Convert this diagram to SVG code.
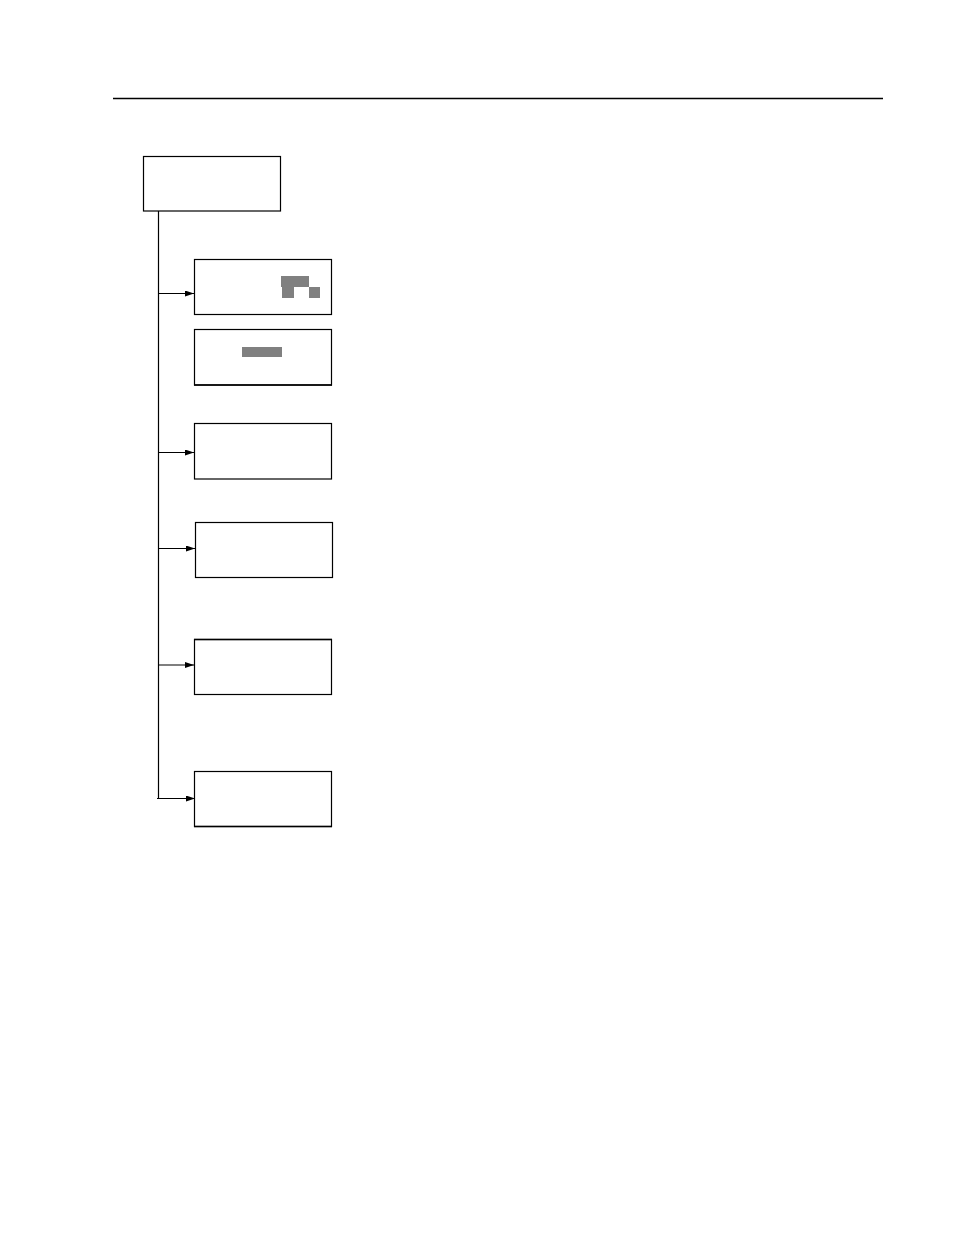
<svg xmlns="http://www.w3.org/2000/svg" width="954" height="1235" viewBox="0 0 954 1235">
<style>
.box{fill:#fff;stroke:#000;stroke-width:1.2}
.con{fill:none;stroke:#000;stroke-width:1.2}
.gray{fill:#808080}
</style>
<defs>
<marker id="arr" markerWidth="9" markerHeight="6" refX="9" refY="3" orient="auto" markerUnits="userSpaceOnUse">
<path d="M0,0 L9,3 L0,6 Z" fill="#000"/>
</marker>
</defs>
<rect width="954" height="1235" fill="#fff"/>
<line x1="113" y1="98.5" x2="883" y2="98.5" stroke="#000" stroke-width="1.3"/>
<g id="root"><rect class="box" x="143.5" y="156.5" width="137" height="54.5"/></g>
<g id="n1"><rect class="box" x="194.5" y="259.5" width="137" height="55"/>
<rect class="gray" x="281" y="276" width="28" height="11"/>
<rect class="gray" x="282" y="286" width="12" height="12"/>
<rect class="gray" x="309" y="287" width="11" height="11"/></g>
<g id="n2"><rect class="box" x="194.5" y="329.5" width="137" height="55.5"/>
<line x1="194" y1="385" x2="332" y2="385" stroke="#000" stroke-width="1.6"/>
<rect class="gray" x="242" y="347" width="40" height="10"/></g>
<g id="n3"><rect class="box" x="194.5" y="423.5" width="137" height="55.5"/></g>
<g id="n4"><rect class="box" x="195.5" y="522.5" width="137" height="55"/></g>
<g id="n5"><rect class="box" x="194.5" y="639.5" width="137" height="55"/>
<line x1="194" y1="639.5" x2="332" y2="639.5" stroke="#000" stroke-width="1.6"/></g>
<g id="n6"><rect class="box" x="194.5" y="771.5" width="137" height="55"/>
<line x1="194" y1="826.5" x2="332" y2="826.5" stroke="#000" stroke-width="1.6"/></g>
<g id="connectors">
<line class="con" x1="158.5" y1="211" x2="158.5" y2="799"/>
<line class="con" x1="158" y1="293.5" x2="194" y2="293.5" marker-end="url(#arr)"/>
<line class="con" x1="158" y1="452.5" x2="194" y2="452.5" marker-end="url(#arr)"/>
<line class="con" x1="158" y1="548.5" x2="195" y2="548.5" marker-end="url(#arr)"/>
<line class="con" x1="158" y1="665" x2="194" y2="665" marker-end="url(#arr)"/>
<line class="con" x1="157" y1="798.5" x2="195" y2="798.5" marker-end="url(#arr)"/>
</g>
</svg>
